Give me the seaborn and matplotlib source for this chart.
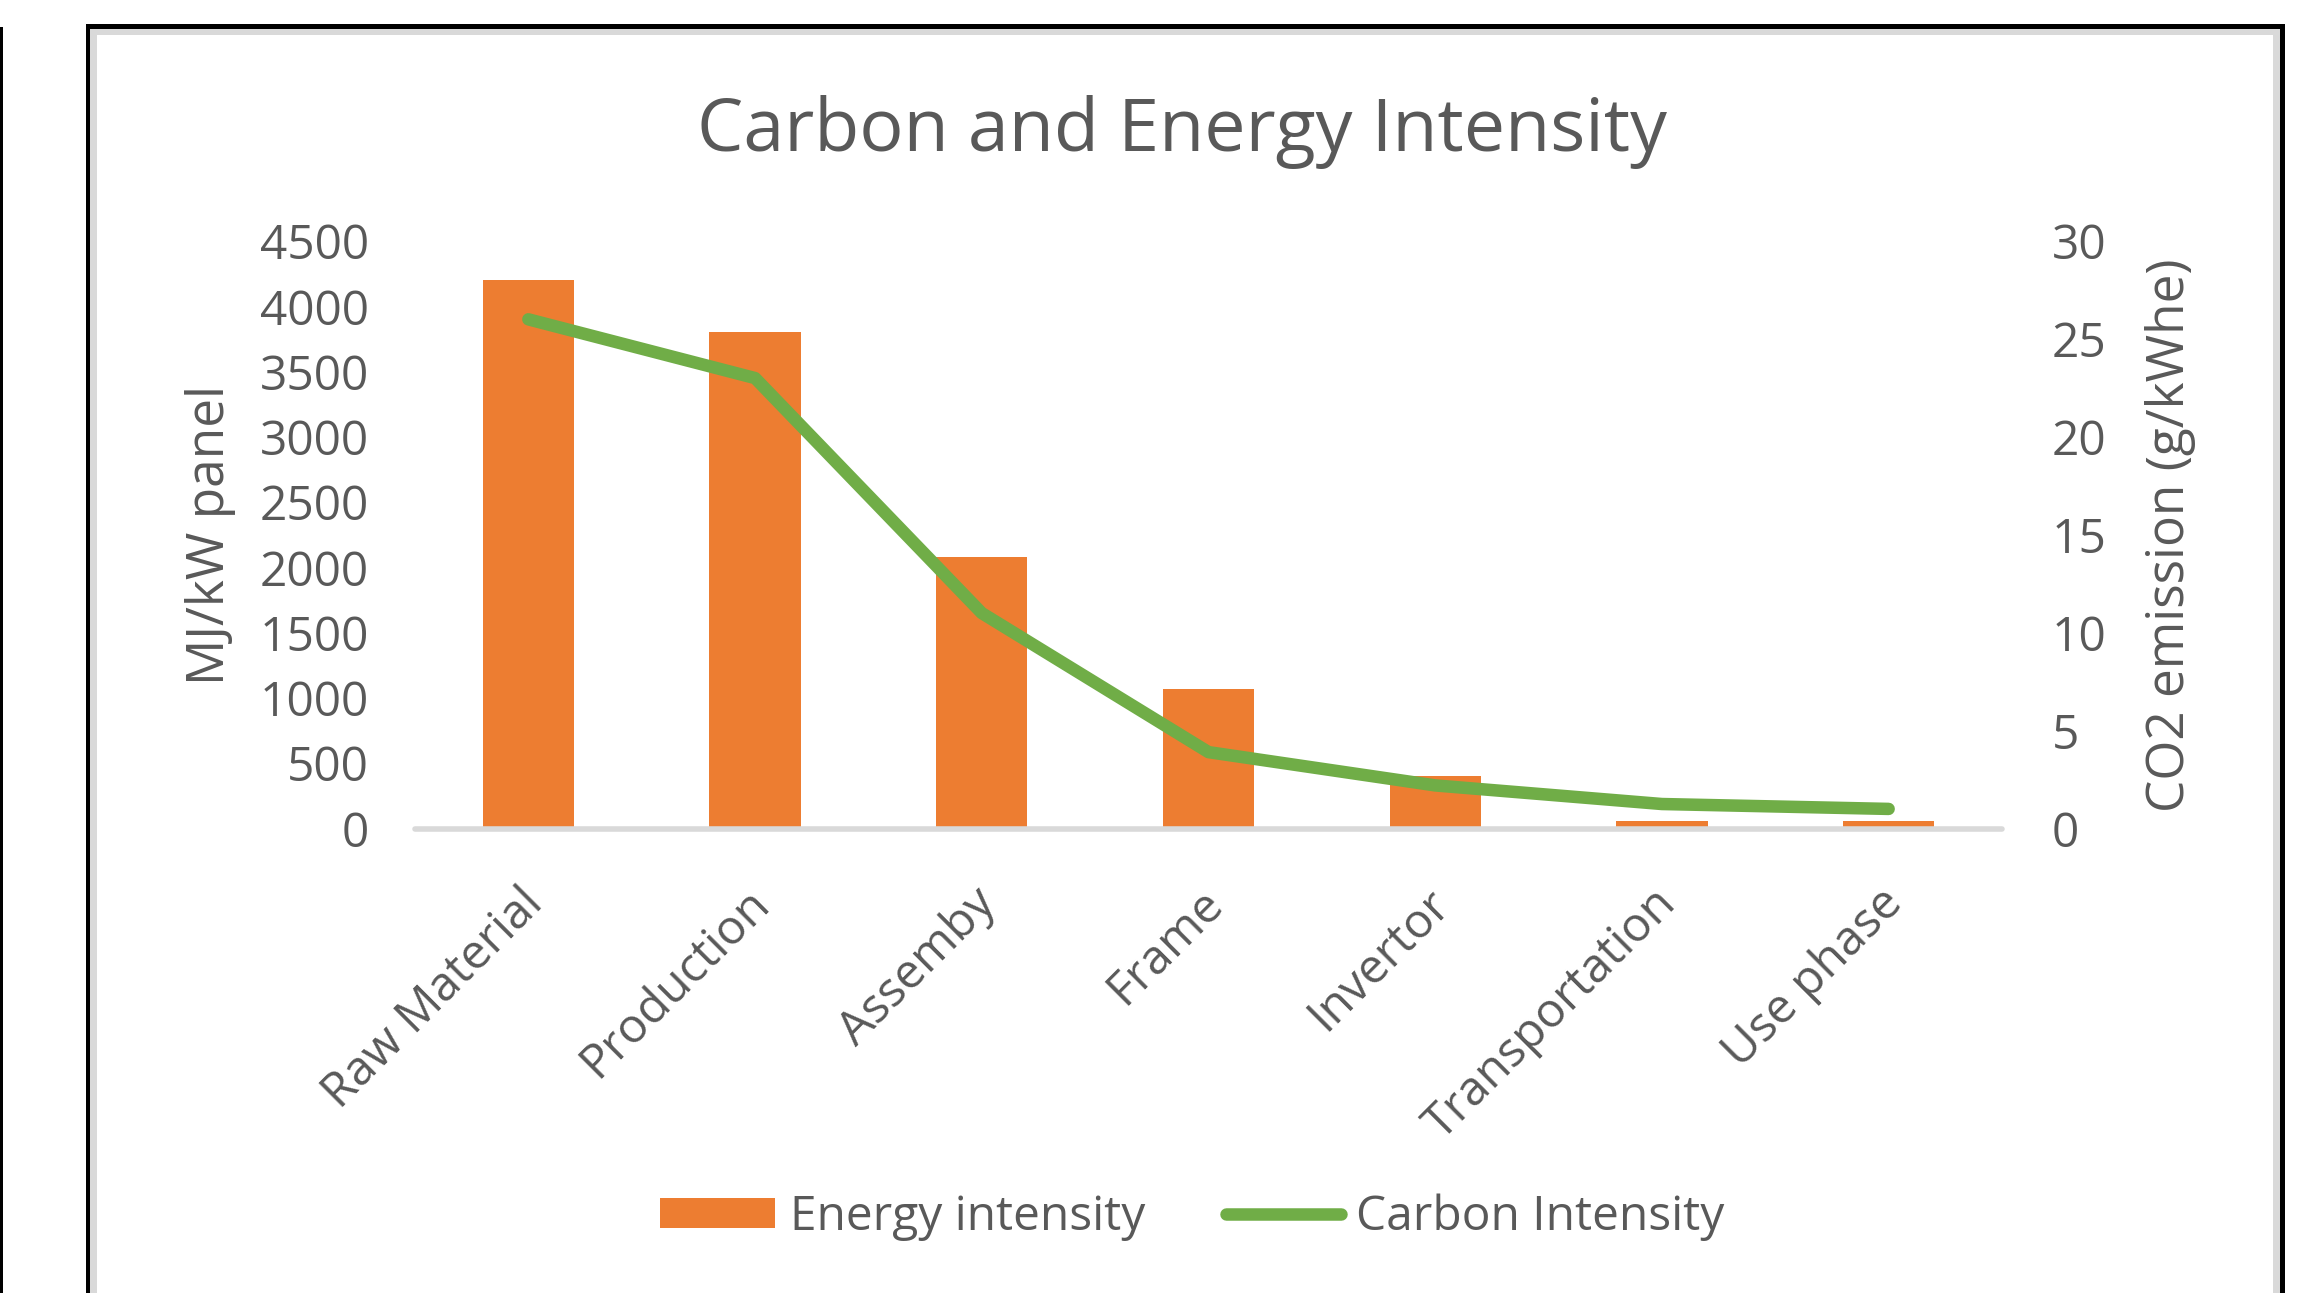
import numpy as np
import pandas as pd
import matplotlib
matplotlib.use("Agg")
import matplotlib.pyplot as plt
from matplotlib.patches import Rectangle, Patch
from matplotlib.lines import Line2D
from matplotlib.transforms import ScaledTranslation
import seaborn as sns

# ---- data -------------------------------------------------------------
stages = ["Raw Material", "Production", "Assemby", "Frame",
          "Invertor", "Transportation", "Use phase"]
energy_mj = [4200, 3800, 2080, 1065, 405, 55, 55]          # MJ/kW panel
carbon_g = [26.0, 23.0, 11.0, 3.9, 2.2, 1.25, 1.0]          # g CO2 / kWhe
energy_ticks = [0, 500, 1000, 1500, 2000, 2500, 3000, 3500, 4000, 4500]
carbon_ticks = [0, 5, 10, 15, 20, 25, 30]

# ---- style ------------------------------------------------------------
W, H, DPI = 2315, 1293, 100
TEXT = "#595959"
ORANGE = "#ED7D31"
GREEN = "#70AD47"
AXIS_GRAY = "#D9D9D9"
FS = 34.5
LINE_W = 9

sns.set_theme(style="white")
plt.rcParams["font.family"] = ["Open Sans", "DejaVu Sans"]

fig = plt.figure(figsize=(W / DPI, H / DPI), dpi=DPI, facecolor="white")


def px_box(x0, y0, x1, y1, color, z):
    """Filled box given in pixels from the top-left corner of the figure."""
    fig.add_artist(Rectangle((x0 / W, 1 - y1 / H), (x1 - x0) / W, (y1 - y0) / H,
                             transform=fig.transFigure, facecolor=color,
                             edgecolor="none", zorder=z))


# chart frame: black outline with a light grey inner rim
px_box(0, 27, 2.5, H + 5, "black", -10)
px_box(86, 24, 2285, H + 5, "black", -10)
px_box(90, 29, 2280, H + 5, AXIS_GRAY, -9)
px_box(97, 35, 2273, H + 5, "white", -8)

ax = fig.add_axes([415 / W, 1 - 828.5 / H, (2002 - 415) / W, (828.5 - 241) / H])
ax.set_facecolor("none")

df = pd.DataFrame({"stage": stages, "energy": energy_mj, "carbon": carbon_g})

sns.barplot(data=df, x="stage", y="energy", color=ORANGE, saturation=1,
            width=0.403, linewidth=0, ax=ax)

ax2 = ax.twinx()
sns.pointplot(data=df, x="stage", y="carbon", color=GREEN, markers="",
              linestyles="-", ax=ax2)
for ln in ax2.lines:
    ln.set_linewidth(LINE_W)
    ln.set_solid_capstyle("round")
    ln.set_solid_joinstyle("round")

ax.set_xlim(-0.5, len(stages) - 0.5)
ax.set_ylim(0, 4500)
ax2.set_ylim(0, 30)
ax.set_yticks(energy_ticks)
ax2.set_yticks(carbon_ticks)

# category axis line
ax.axhline(0, color=AXIS_GRAY, lw=4, zorder=3, clip_on=False)

for a in (ax, ax2):
    for s in a.spines.values():
        s.set_visible(False)
    a.grid(False)

ax.tick_params(axis="y", length=0, pad=33, labelsize=FS, labelcolor=TEXT)
ax2.tick_params(axis="y", length=0, pad=36, labelsize=FS, labelcolor=TEXT)
ax.tick_params(axis="x", length=0, pad=49, labelsize=FS, labelcolor=TEXT)
ax.set_xticks(range(len(stages)))
ax.set_xticklabels(stages, rotation=45, ha="right", va="center",
                   rotation_mode="anchor")
shift = ScaledTranslation(7 / DPI, 0, fig.dpi_scale_trans)
for lbl in ax.get_xticklabels():
    lbl.set_transform(lbl.get_transform() + shift)

ax.set_xlabel("")
ax.set_ylabel("MJ/kW panel", fontsize=37, color=TEXT, va="center", ha="center")
ax.yaxis.set_label_coords((211 - 415) / (2002 - 415), 0.5)
ax2.set_ylabel("CO2 emission (g/kWhe)", fontsize=37, color=TEXT,
               va="center", ha="center")
ax2.yaxis.set_label_coords((2170 - 415) / (2002 - 415), 0.5)

fig.text(1182 / W, 1 - 132 / H, "Carbon and Energy Intensity",
         ha="center", va="center", fontsize=53, color=TEXT)

handles = [Patch(facecolor=ORANGE, edgecolor="none", label="Energy intensity"),
           Line2D([], [], color=GREEN, lw=LINE_W, solid_capstyle="round",
                  label="Carbon Intensity")]
fig.legend(handles=handles, loc="center", bbox_to_anchor=(1192 / W, 1 - 1217 / H),
           ncol=2, frameon=False, fontsize=FS, handlelength=2.4,
           handleheight=0.6, handletextpad=0.3, columnspacing=1.7,
           labelcolor=TEXT)

fig.savefig("out.png", dpi=DPI, facecolor="white")
